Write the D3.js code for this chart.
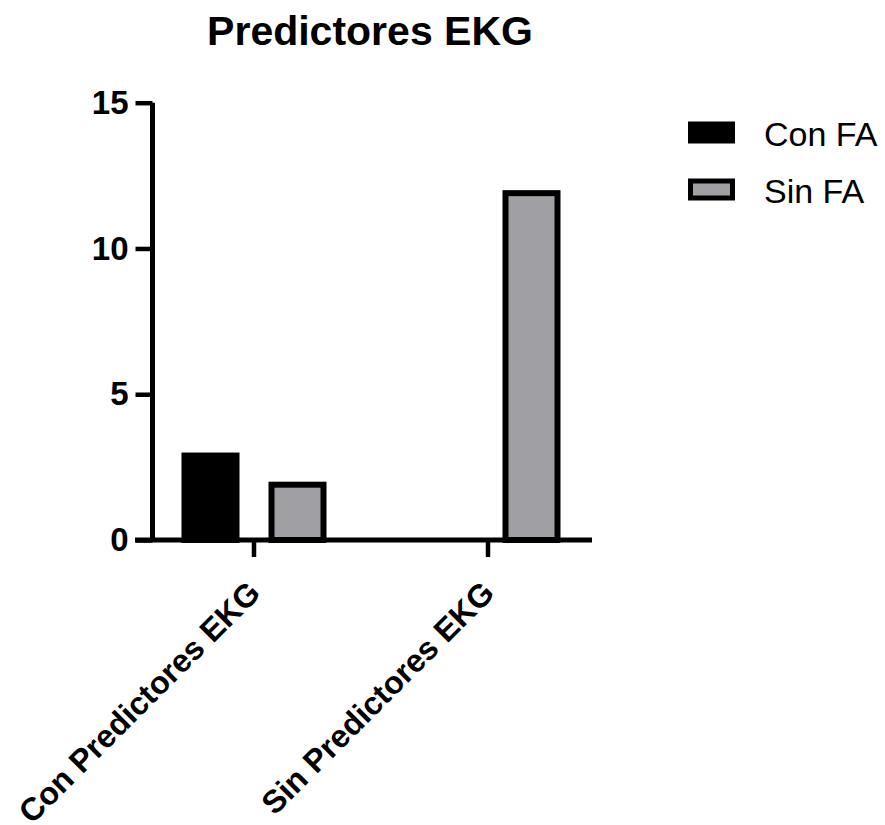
<!DOCTYPE html>
<html>
<head>
<meta charset="utf-8">
<script src="https://cdn.jsdelivr.net/npm/d3@7"></script>
<style>
  html, body { margin: 0; padding: 0; background: #fff; }
  text { font-family: "Liberation Sans", Arial, Helvetica, sans-serif; }
</style>
</head>
<body>
<svg id="chart" width="885" height="825"></svg>
<script>
const title = "Predictores EKG";
const categories = ["Con Predictores EKG", "Sin Predictores EKG"];
const seriesNames = ["Con FA", "Sin FA"];
const conFA = [3, 0];
const sinFA = [2, 12];
const yTicks = [0, 5, 10, 15];
const seriesColors = ["#000000", "#a09fa4"];

const svg = d3.select("#chart");

const y = d3.scaleLinear().domain([0, 15]).range([540, 102.7]);
const x0 = d3.scaleBand().domain(categories).range([137, 605]).padding(0);
const x1 = d3.scaleBand().domain(seriesNames)
  .range([x0.bandwidth() / 2 - 87, x0.bandwidth() / 2 + 87])
  .paddingInner(1 / 3).paddingOuter(1 / 6);

const values = [conFA, sinFA];
const data = [];
categories.forEach((c, i) => {
  seriesNames.forEach((s, j) => data.push({ cat: c, series: s, value: values[j][i], color: seriesColors[j] }));
});

// Bars
const sw = 6;
svg.append("g").selectAll("rect")
  .data(data.filter(d => d.value > 0))
  .join("rect")
  .attr("x", d => x0(d.cat) + x1(d.series) + sw / 2)
  .attr("width", x1.bandwidth() - sw)
  .attr("y", d => y(d.value) + sw / 2)
  .attr("height", d => y(0) - y(d.value) - sw / 2)
  .attr("fill", d => d.color)
  .attr("stroke", "#000")
  .attr("stroke-width", sw);

// Y axis
const yAxis = svg.append("g")
  .attr("transform", "translate(152.5,0)")
  .call(d3.axisLeft(y).tickValues(yTicks).tickSize(17).tickPadding(7).tickFormat(d3.format("d")));
yAxis.select(".domain").attr("d", `M0,${y(15)}V${y(0)}`).attr("stroke", "#000").attr("stroke-width", 5);
yAxis.selectAll(".tick line").attr("stroke", "#000").attr("stroke-width", 4.5);
yAxis.selectAll(".tick text")
  .attr("font-size", 33).attr("font-weight", "bold").attr("fill", "#000")
  .attr("font-family", "'Liberation Sans', Arial, sans-serif");

// X axis
const xAxis = svg.append("g")
  .attr("transform", "translate(0,540)")
  .call(d3.axisBottom(x0).tickSize(17).tickSizeOuter(0));
xAxis.select(".domain").attr("d", "M135,0H592").attr("stroke", "#000").attr("stroke-width", 5);
xAxis.selectAll(".tick line").attr("stroke", "#000").attr("stroke-width", 4.5);
xAxis.selectAll(".tick text")
  .attr("font-size", 32).attr("font-weight", "bold").attr("fill", "#000")
  .attr("font-family", "'Liberation Sans', Arial, sans-serif")
  .attr("text-anchor", "end")
  .attr("y", 0).attr("dy", 0)
  .attr("transform", "translate(8,55) rotate(-45)");

// Title
svg.append("text")
  .attr("x", 370).attr("y", 45)
  .attr("text-anchor", "middle")
  .attr("font-size", 41).attr("font-weight", "bold")
  .text(title);

// Legend
const legend = svg.append("g");
seriesNames.forEach((s, i) => {
  const cy = 132.5 + i * 57;
  legend.append("rect")
    .attr("x", 690.5).attr("y", cy - 8.5)
    .attr("width", 42).attr("height", 17)
    .attr("fill", seriesColors[i])
    .attr("stroke", "#000").attr("stroke-width", 5);
  legend.append("text")
    .attr("x", 764).attr("y", cy + 13)
    .attr("font-size", 34)
    .text(s);
});
</script>
</body>
</html>
